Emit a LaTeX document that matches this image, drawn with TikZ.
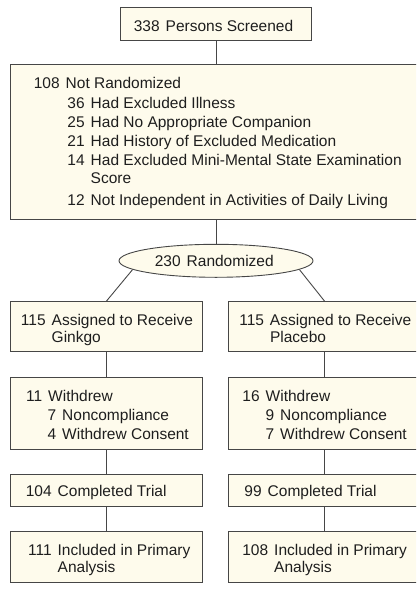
\documentclass[tikz,border=0pt]{standalone}
\usepackage{fontspec}
\setmainfont{Liberation Sans}
\usetikzlibrary{shapes.geometric}
\definecolor{boxfill}{RGB}{254,251,236}
\definecolor{boxline}{RGB}{70,70,70}
\definecolor{txtcol}{RGB}{30,30,30}
\newcommand\nmbr[1]{\llap{#1\hspace{6pt}}}
\tikzset{
  box/.style={draw=boxline, fill=boxfill, line width=0.9pt, inner sep=0pt, rectangle},
  oval/.style={draw=boxline, fill=boxfill, line width=0.9pt, inner sep=0pt, ellipse},
  txt/.style={anchor=base west, inner sep=0pt, text=txtcol, font=\fontsize{15.5}{18}\selectfont},
  conn/.style={draw=boxline, line width=0.9pt},
}
\begin{document}
\begin{tikzpicture}[x=1pt,y=-1pt]
\useasboundingbox (0,0) rectangle (416,592);
\clip (0,0) rectangle (416,592);
% boxes
\node[box, minimum width=191pt, minimum height=32.5pt] (top) at (216,23.75) {};
\node[box, minimum width=412pt, minimum height=155pt] (big) at (216,141.8) {};
\node[oval, minimum width=194pt, minimum height=33pt] (rand) at (216,260.8) {};
\node[box, minimum width=192pt, minimum height=50pt] (ga) at (106.5,326.5) {};
\node[box, minimum width=192pt, minimum height=50pt] (pa) at (324.5,326.5) {};
\node[box, minimum width=192pt, minimum height=71.7pt] (gw) at (106.5,413.2) {};
\node[box, minimum width=192pt, minimum height=71.7pt] (pw) at (324.5,413.2) {};
\node[box, minimum width=192pt, minimum height=32.7pt] (gc) at (106.5,490.35) {};
\node[box, minimum width=192pt, minimum height=32.7pt] (pc) at (324.5,490.35) {};
\node[box, minimum width=192pt, minimum height=51pt] (gi) at (106.5,557.2) {};
\node[box, minimum width=192pt, minimum height=51pt] (pi) at (324.5,557.2) {};
% connectors
\draw[conn] (top.south) -- (big.north);
\draw[conn] (big.south) -- (rand.north);
\draw[conn] (rand.186) -- (ga.north);
\draw[conn] (rand.354) -- (pa.north);
\draw[conn] (ga.south) -- (gw.north);
\draw[conn] (pa.south) -- (pw.north);
\draw[conn] (gw.south) -- (gc.north);
\draw[conn] (pw.south) -- (pc.north);
\draw[conn] (gc.south) -- (gi.north);
\draw[conn] (pc.south) -- (pi.north);
% texts
\node[txt] (t0) at (165.5,31.3) {\nmbr{338}Persons Screened};
\node[txt] (b1) at (65.5,88.3) {\nmbr{108}Not Randomized};
\node[txt] (b2) at (90.5,108.3) {\nmbr{36}Had Excluded Illness};
\node[txt] (b3) at (90.5,127.3) {\nmbr{25}Had No Appropriate Companion};
\node[txt] (b4) at (90.5,146) {\nmbr{21}Had History of Excluded Medication};
\node[txt] (b5) at (90.5,165) {\nmbr{14}Had Excluded Mini-Mental State Examination};
\node[txt] (b6) at (90.5,183.3) {Score};
\node[txt] (b7) at (90.5,205) {\nmbr{12}Not Independent in Activities of Daily Living};
\node[txt] (r1) at (186.5,266.7) {\nmbr{230}Randomized};
\node[txt] (ga1) at (51.5,325) {\nmbr{115}Assigned to Receive};
\node[txt] (ga2) at (51.5,342.5) {Ginkgo};
\node[txt] (pa1) at (269.8,325) {\nmbr{115}Assigned to Receive};
\node[txt] (pa2) at (269.8,342.5) {Placebo};
\node[txt] (gw1) at (48,401) {\nmbr{11}Withdrew};
\node[txt] (gw2) at (62,420) {\nmbr{7}Noncompliance};
\node[txt] (gw3) at (62,439.5) {\nmbr{4}Withdrew Consent};
\node[txt] (pw1) at (265.5,401) {\nmbr{16}Withdrew};
\node[txt] (pw2) at (280,420) {\nmbr{9}Noncompliance};
\node[txt] (pw3) at (280,439.5) {\nmbr{7}Withdrew Consent};
\node[txt] (gc1) at (57.5,496.5) {\nmbr{104}Completed Trial};
\node[txt] (pc1) at (267.5,496.5) {\nmbr{99}Completed Trial};
\node[txt] (gi1) at (57.5,555) {\nmbr{111}Included in Primary};
\node[txt] (gi2) at (57.5,572.7) {Analysis};
\node[txt] (pi1) at (274,555) {\nmbr{108}Included in Primary};
\node[txt] (pi2) at (274,572.7) {Analysis};
\end{tikzpicture}
\end{document}
